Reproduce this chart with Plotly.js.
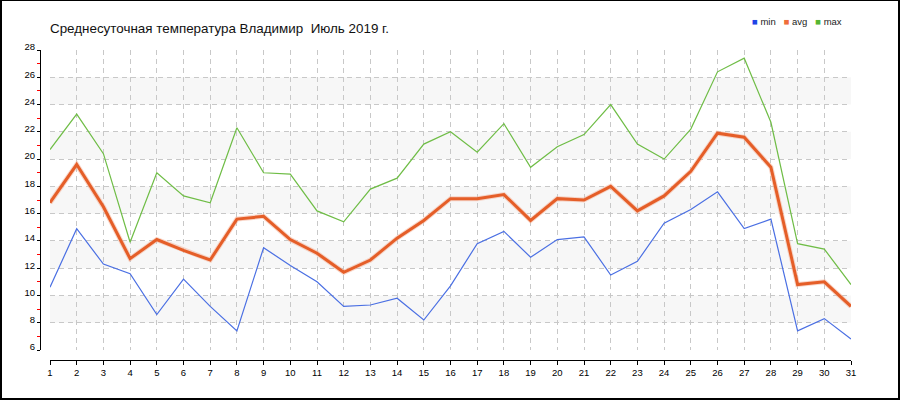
<!DOCTYPE html>
<html><head><meta charset="utf-8">
<script src="https://cdn.plot.ly/plotly-3.0.1.min.js"></script>
<style>
html,body{margin:0;padding:0;background:#fff}
#wrap{position:relative;width:900px;height:400px}
#chart{width:900px;height:400px}
#frame{position:absolute;left:0;top:0;width:900px;height:400px;box-sizing:border-box;border-style:solid;border-color:#000;border-width:1px 2px 2px 2px;pointer-events:none}
</style>
</head><body>
<div id="wrap"><div id="chart"></div><div id="frame"></div></div>
<script>
const titleText = 'Среднесуточная температура Владимир  Июль 2019 г.';
const days = [1,2,3,4,5,6,7,8,9,10,11,12,13,14,15,16,17,18,19,20,21,22,23,24,25,26,27,28,29,30,31];
const minT = [10.6,14.9,12.3,11.6,8.6,11.2,9.2,7.4,13.5,12.2,11.0,9.2,9.3,9.8,8.2,10.7,13.8,14.7,12.8,14.1,14.3,11.5,12.5,15.3,16.3,17.6,14.9,15.6,7.4,8.3,6.8];
const avgT = [16.8,19.6,16.5,12.7,14.1,13.3,12.6,15.6,15.8,14.1,13.1,11.7,12.6,14.2,15.5,17.1,17.1,17.4,15.5,17.1,17.0,18.0,16.2,17.3,19.1,21.9,21.6,19.4,10.8,11.0,9.2];
const maxT = [20.7,23.3,20.4,13.9,19.0,17.3,16.8,22.3,19.0,18.9,16.2,15.4,17.8,18.6,21.1,22.0,20.5,22.6,19.4,20.9,21.8,24.0,21.1,20.0,22.2,26.4,27.4,22.7,13.8,13.4,10.8];
const seriesNames = ['min','avg','max'];
const lineColors = ['#4a6fe3','#e55e28','#6fbd46'];
const swatchColors = ['#1f44e6','#ef6d3a','#55b531'];

const yMin = 6, yMax = 28;
const font = 'Liberation Sans, Arial, sans-serif';

const traces = [
  // soft shadow under the avg line (base subplot)
  {x: days, y: avgT, name: seriesNames[1], mode: 'lines', xaxis: 'x', yaxis: 'y',
   line: {color: '#f4b79e', width: 5}, opacity: 0.55, hoverinfo: 'skip', showlegend: false},
  {x: days, y: minT, name: seriesNames[0], mode: 'lines', xaxis: 'x2', yaxis: 'y2', line: {color: lineColors[0], width: 1.2}},
  {x: days, y: avgT, name: seriesNames[1], mode: 'lines', xaxis: 'x2', yaxis: 'y2', line: {color: lineColors[1], width: 3}},
  {x: days, y: maxT, name: seriesNames[2], mode: 'lines', xaxis: 'x2', yaxis: 'y2', line: {color: lineColors[2], width: 1.2}}
];

// alternating background bands
const shapes = [];
for (let v = yMin + 2; v < yMax; v += 4) {
  shapes.push({type: 'rect', xref: 'x domain', yref: 'y', x0: 0, x1: 1, y0: v, y1: v + 2,
    fillcolor: '#f7f7f7', line: {width: 0}, layer: 'below'});
}

// legend as text
const legendHtml = seriesNames.map((n, i) =>
  `<span style="color:${swatchColors[i]}">■</span> ${n}`).join('   ');

const tickFont = {family: font, size: 9.5, color: '#000'};
const gridStyle = {showgrid: true, gridcolor: '#c8c8c8', gridwidth: 1, griddash: '5px,4px',
  zeroline: false, showline: false, ticks: '', showticklabels: false, fixedrange: true};

const layout = {
  width: 900, height: 400,
  margin: {l: 40, r: 49, t: 50, b: 40, pad: 0},
  paper_bgcolor: '#fff', plot_bgcolor: 'rgba(0,0,0,0)',
  showlegend: false,
  title: {text: titleText, font: {family: font, size: 13.4, color: '#111'},
    xref: 'container', yref: 'container', x: 50/900, xanchor: 'left', y: 1 - 28.5/400, yanchor: 'middle'},
  xaxis: Object.assign({domain: [10/811, 1], range: [1, 31], dtick: 1, tick0: 1}, gridStyle),
  yaxis: Object.assign({domain: [10/310, 1], range: [yMin, yMax], dtick: 2, tick0: yMin}, gridStyle),
  xaxis2: {overlaying: 'x', anchor: 'free', position: 0, range: [1, 31], dtick: 1, tick0: 1,
    ticks: 'outside', ticklen: 4, tickcolor: '#000', tickwidth: 1,
    showline: true, linecolor: '#000', linewidth: 1, showgrid: false, zeroline: false,
    tickfont: tickFont, fixedrange: true},
  yaxis2: {overlaying: 'y', anchor: 'free', position: 0, side: 'left', range: [yMin, yMax], dtick: 2, tick0: yMin,
    ticks: 'outside', ticklen: 3, tickcolor: '#000', tickwidth: 1,
    minor: {dtick: 1, tick0: yMin, ticks: 'outside', ticklen: 3, tickcolor: '#ff0000', showgrid: false},
    showline: true, linecolor: '#000', linewidth: 1, showgrid: false, zeroline: false,
    tickfont: tickFont, ticklabelshift: -3, fixedrange: true},
  shapes: shapes,
  annotations: [{xref: 'paper', yref: 'paper', x: (750 - 40)/811, y: (360 - 22)/310,
    xanchor: 'left', yanchor: 'middle', showarrow: false, text: legendHtml,
    font: {family: font, size: 9.5, color: '#222'}}]
};

Plotly.newPlot('chart', traces, layout, {staticPlot: true, displayModeBar: false});
</script>
</body></html>
